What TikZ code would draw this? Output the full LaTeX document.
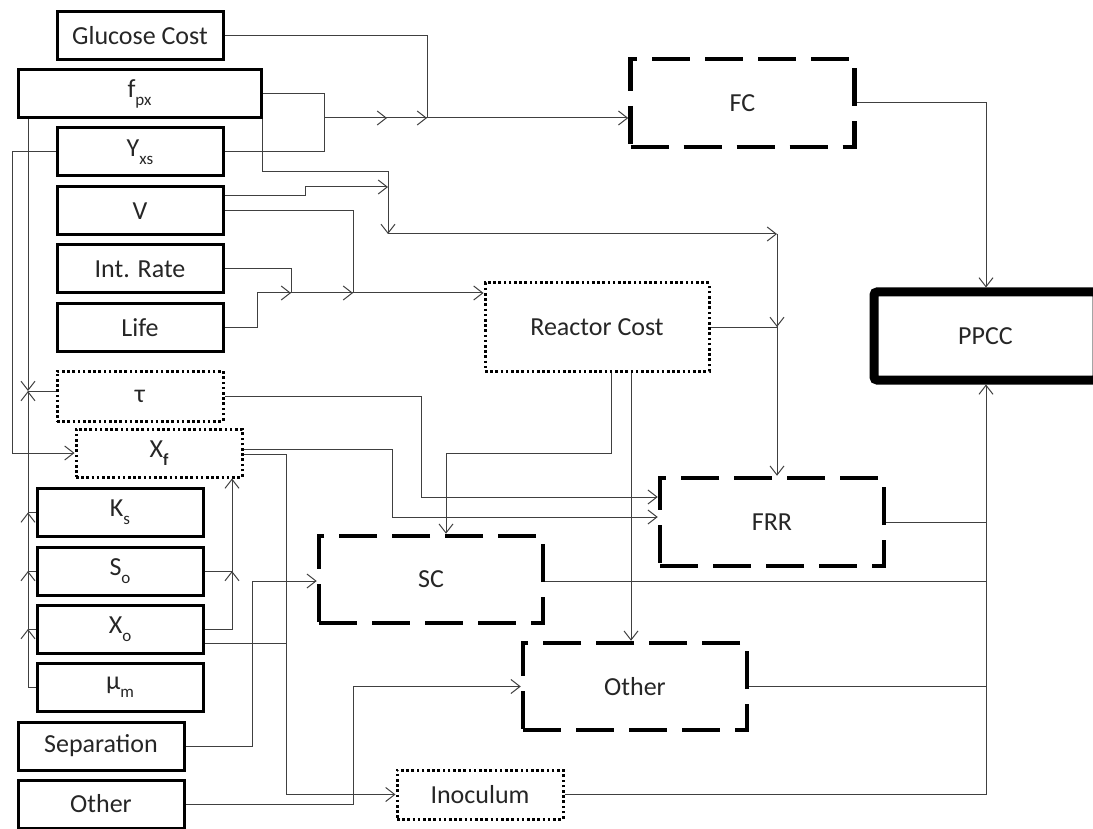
\documentclass[tikz,border=0pt]{standalone}
\usepackage{fontspec}
\setmainfont{Carlito}
\usetikzlibrary{arrows.meta}
\newcommand\fs{\fontsize{26}{30}\selectfont}
\newcommand\mysub[1]{\raisebox{-0.3em}{\fontsize{17}{17}\selectfont #1}}
\begin{document}
\begin{tikzpicture}[x=1pt,y=-1pt,
  base/.style={rectangle, inner sep=0pt, font=\fs, text=black!85},
  sbox/.style={base, draw=black, line width=3pt},
  dashbox/.style={base, draw=black, line width=4.5pt, dash pattern=on 38pt off 15pt, minimum width=224pt, minimum height=88pt},
  dotbox/.style={base, draw=black, line width=3pt, dash pattern=on 2.6pt off 2.6pt},
  ppccbox/.style={base, draw=black, line width=9pt, rounded corners=3pt},
  small/.style={minimum width=166pt, minimum height=48pt},
  conn/.style={line width=1pt, draw=black!75},
  arr/.style={conn, -{Straight Barb[length=9pt,width=14pt]}}]
\useasboundingbox (0,0) rectangle (1093,829);

% left column
\node[sbox, small] (gc) at (140,36) {Glucose Cost};
\node[sbox, minimum width=243pt, minimum height=48pt] (fpx) at (139.5,94) {f\mysub{px}};
\node[sbox, small] (yxs) at (140,152) {Y\mysub{xs}};
\node[sbox, small] (V) at (140,211) {V};
\node[sbox, small] (ir) at (140,269) {Int. Rate};
\node[sbox, small] (life) at (140,327.5) {Life};
\node[dotbox, small, minimum height=50pt] (tau) at (140,396) {τ};
\node[dotbox, small] (xf) at (159,453) {X\mysub{\textbf{f}}};
\node[sbox, small] (ks) at (120,512.5) {K\mysub{s}};
\node[sbox, small] (so) at (120,571) {S\mysub{o}};
\node[sbox, small] (xo) at (120,629) {X\mysub{o}};
\node[sbox, small] (mu) at (120,687.5) {μ\mysub{m}};
\node[sbox, small] (sep) at (101,746) {Separation};
\node[sbox, small] (oth) at (101,804) {Other};

% right side
\node[dashbox] (fc) at (742.5,103) {FC};
\node[dotbox, minimum width=224pt, minimum height=88pt] (rc) at (597,327) {Reactor Cost};
\node[dashbox] (frr) at (772,522) {FRR};
\node[dashbox, minimum height=87pt] (sc) at (431,579.5) {SC};
\node[dashbox, minimum height=87pt] (other2) at (635,686.5) {Other};
\node[dotbox, small, minimum height=49pt] (inoc) at (480,794.5) {Inoculum};
\node[ppccbox, minimum width=223pt, minimum height=88pt] (ppcc) at (985.5,336) {PPCC};

% junction coordinates
\coordinate (fcj) at (324,118);
\coordinate (gcj) at (427,118);
\coordinate (a1) at (388,234);
\coordinate (a2) at (777,234);
\coordinate (l1) at (257,293);
\coordinate (t1) at (28,391);
\coordinate (pin1) at (986,287.5);
\coordinate (pin2) at (986,384.5);

% to FC
\draw[conn] (gc.east) -| (gcj);
\draw[conn] (fpx.east) -| (324,152) -- (yxs.east);
\draw[arr] (fcj) -- (387,118);
\draw[arr] (fcj) -- (gcj);
\draw[arr] (fcj) -- (fc.west |- fcj);

% f_px / V to FRR
\draw[arr] (fpx.south east) |- (388,172) -- (a1);
\draw[arr] (V.east |- 0,196) -- (305,196) -- (305,187) -- (a1 |- 0,187);
\draw[arr] (a1) -- (a2);
\draw[arr] (a2) -- (a2 |- rc.east);
\draw[arr] (a2) -- (a2 |- frr.north);

% to Reactor Cost
\draw[conn] (V.east) -| (353,293);
\draw[conn] (ir.east) -| (291,293);
\draw[conn] (life.east) -| (l1);
\draw[arr] (l1) -- (291,293);
\draw[arr] (l1) -- (353,293);
\draw[arr] (l1) -- (rc.west |- l1);

% from Reactor Cost
\draw[conn] (rc.east) -- (a2 |- rc.east);
\draw[arr] (611,0 |- rc.south) -- (611,453) -| (sc.north -| 446,0);
\draw[arr] (631,0 |- rc.south) -- (631,0 |- other2.north);

% tau, X_f to FRR
\draw[arr] (tau.east) -| (421,497) -- (frr.west |- 0,497);
\draw[arr] (xf.east |- 0,449) -| (392,517) -- (frr.west |- 0,517);

% to Inoculum
\draw[arr] (xf.east |- 0,454) -| (inoc.west -| 286,0) -- (inoc.west);
\draw[conn] (xo.east |- 0,643) -- (286,643);

% X_o, S_o to X_f
\draw[arr] (xo.east) -| (xf.south -| 232,0);
\draw[arr] (232,629) -- (232,571);
\draw[conn] (so.east) -- (232,571);

% Y_xs to X_f
\draw[arr] (yxs.west) -- (12,152) |- (xf.west);

% to tau
\draw[arr] (fpx.south -| t1) -- (t1);
\draw[conn] (tau.west |- t1) -- (t1);
\draw[arr] (mu.west) -| (t1);
\draw[arr] (28,687.5) -- (28,629);
\draw[arr] (28,687.5) -- (28,571);
\draw[arr] (28,687.5) -- (28,512.5);
\draw[conn] (ks.west) -- (ks.west -| t1);
\draw[conn] (so.west) -- (so.west -| t1);
\draw[conn] (xo.west) -- (xo.west -| t1);

% Separation, Other
\draw[arr] (sep.east) -| (252,581) -- (sc.west |- 0,581);
\draw[arr] (oth.east) -| (other2.west -| 353,0) -- (other2.west);

% to PPCC
\draw[arr] (fc.east) -| (pin1);
\draw[arr] (inoc.east) -| (pin2);
\draw[conn] (frr.east) -- (frr.east -| pin2);
\draw[conn] (sc.east |- 0,581) -- (986,581);
\draw[conn] (other2.east) -- (other2.east -| pin2);
\end{tikzpicture}
\end{document}
